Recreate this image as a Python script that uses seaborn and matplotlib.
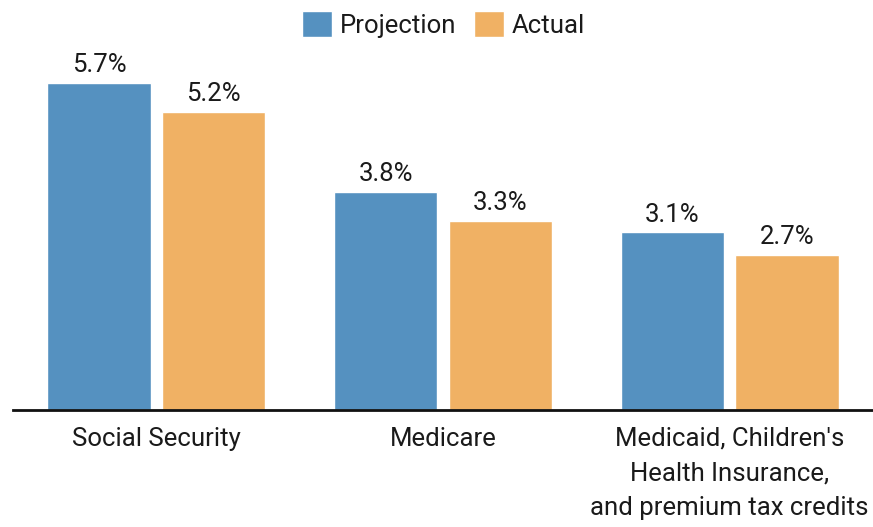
import matplotlib
matplotlib.use("Agg")
import matplotlib.pyplot as plt
import seaborn as sns
import pandas as pd

categories = ["Social Security", "Medicare",
              "Medicaid, Children's\nHealth Insurance,\nand premium tax credits"]
projection = [5.7, 3.8, 3.1]
actual = [5.2, 3.3, 2.7]
series = ["Projection", "Actual"]
colors = ["#5591c0", "#f0b164"]

df = pd.DataFrame({
    "category": categories * 2,
    "value": projection + actual,
    "series": [series[0]] * 3 + [series[1]] * 3,
})

sns.set_theme(style="white")
plt.rcParams['font.family'] = ['Roboto', 'DejaVu Sans']

fig = plt.figure(figsize=(8.73, 5.27), dpi=100)
ax = fig.add_axes([13 / 873, (527 - 410) / 527, 1 - 13 / 873, (410 - 48) / 527])

sns.barplot(data=df, x="category", y="value", hue="series", palette=colors,
            width=0.8, gap=0.1, ax=ax, saturation=1, legend=True)

ax.set_xlim(-0.5, 2.5)
ax.set_ylim(0, 362 / 57.4)
for c in ax.containers:
    ax.bar_label(c, labels=[f"{v:.1f}%" for v in c.datavalues], padding=4,
                 fontsize=18.5, color="#1a1a1a")

for s in ["top", "right", "left"]:
    ax.spines[s].set_visible(False)
ax.spines["bottom"].set_linewidth(2)
ax.spines["bottom"].set_color("#111111")
ax.set_yticks([])
ax.set_xlabel("")
ax.set_ylabel("")
ax.tick_params(axis="x", length=0, pad=12, labelsize=18.5, colors="#1a1a1a")
for t in ax.get_xticklabels():
    t.set_linespacing(1.55)

leg = ax.legend(loc="lower center", bbox_to_anchor=(0.5 - 13 / 873 / 2 + 0.008, 1.0), ncol=2,
                frameon=False, fontsize=18.5, handlelength=1.15, handleheight=1.2,
                handletextpad=0.3, columnspacing=0.7, borderaxespad=0.0)
for t in leg.get_texts():
    t.set_color("#1a1a1a")

fig.savefig("out.png", dpi=100)
